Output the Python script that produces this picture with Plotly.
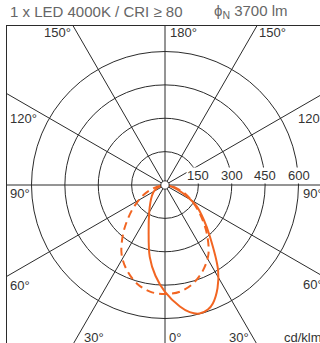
import numpy as np
import plotly.graph_objects as go

# ---- data (cd/klm) ----
# solid curve (C90/C270 plane), gamma in degrees from nadir, negative = left
gamma_solid = [-90, -80, -70, -60, -50, -40, -30, -20, -12, -6, 0, 7, 11, 15, 19, 22, 27, 32, 41, 48, 56, 62, 70, 80, 90]
intensity_solid = [0, 12, 35, 58, 77, 102, 142, 215, 330, 410, 480, 550, 582, 598, 592, 574, 520, 450, 308, 235, 172, 115, 60, 20, 0]

# dashed curve (C0/C180 plane)
gamma_dash = [-90, -82, -74, -65, -54, -46, -40, -32, -24, -16, -8, 0, 8, 16, 24, 32, 40, 46, 54, 65, 74, 82, 90]
intensity_dash = [0, 20, 55, 107, 177, 240, 295, 368, 420, 460, 484, 490, 484, 460, 420, 368, 295, 240, 177, 107, 55, 20, 0]

ring_values = [150, 300, 450, 600]
ring_labels = ["150", "300", "450", "600"]
grid_angles = [0, 30, 60, 90, 120, 150]

title_left = "1 x LED 4000K / CRI \u2265 80"
title_right = "\u03d5<sub>N</sub> 3700 lm"
unit_label = "cd/klm"

# ---- geometry (pixel layout) ----
W, H = 320, 343
L_M, T_M = 7, 26
CX, CY = 165, 185          # pole position in pixels
S = 133.5 / 600.0          # pixels per cd/klm


def dx(px):
    return (px - CX) / S


def dy(py):
    return (CY - py) / S


ORANGE = "#f26522"
GRID = "#2b2b2b"
FONT = "Liberation Sans, Arial, Helvetica, sans-serif"


def to_xy(g, r):
    g = np.radians(np.asarray(g, dtype=float))
    r = np.asarray(r, dtype=float)
    return r * np.sin(g), -r * np.cos(g)


fig = go.Figure()

xs, ys = to_xy(gamma_dash, intensity_dash)
fig.add_trace(go.Scatter(x=xs, y=ys, mode="lines", line=dict(color=ORANGE, width=2, dash="8px,5px", shape="spline"),
                         hoverinfo="skip", showlegend=False))
xs, ys = to_xy(gamma_solid, intensity_solid)
fig.add_trace(go.Scatter(x=xs, y=ys, mode="lines", line=dict(color=ORANGE, width=2, shape="spline"),
                         hoverinfo="skip", showlegend=False))

shapes = []
for rv in ring_values:
    shapes.append(dict(type="circle", xref="x", yref="y", x0=-rv, x1=rv, y0=-rv, y1=rv,
                       line=dict(color=GRID, width=1), layer="below"))
LEN = 2000
for a in grid_angles:
    t = np.radians(a)
    shapes.append(dict(type="line", xref="x", yref="y",
                       x0=-LEN * np.sin(t), y0=LEN * np.cos(t), x1=LEN * np.sin(t), y1=-LEN * np.cos(t),
                       line=dict(color=GRID, width=1), layer="below"))
rc = 4.2 / S
shapes.append(dict(type="circle", xref="x", yref="y", x0=-rc, x1=rc, y0=-rc, y1=rc,
                   line=dict(color=GRID, width=1), fillcolor="white", layer="above"))

ann = []
lab_font = dict(family=FONT, size=13, color="#333333")
for rv, lab in zip(ring_values, ring_labels):
    ann.append(dict(x=rv, y=dy(184), xref="x", yref="y", text=lab, showarrow=False,
                    xanchor="center", yanchor="bottom", bgcolor="white", borderpad=0, font=lab_font))

angle_ann = [
    ("150°", 73, 32.5, "right"),
    ("180°", 168, 32.5, "left"),
    ("150°", 257, 32.5, "left"),
    ("120°", 8, 118, "left"),
    ("120°", 296, 118, "left"),
    ("90°", 8, 193, "left"),
    ("90°", 301, 193, "left"),
    ("60°", 8, 285, "left"),
    ("60°", 301, 284, "left"),
    ("30°", 82, 337, "left"),
    ("0°", 167, 337, "left"),
    ("30°", 227, 337, "left"),
    (unit_label, 282, 337, "left"),
]
for txt, px, py, xa in angle_ann:
    ann.append(dict(x=dx(px), y=dy(py), xref="x", yref="y", text=txt, showarrow=False,
                    xanchor=xa, yanchor="middle", font=lab_font))

title_font = dict(family=FONT, size=15, color="#666666")
ann.append(dict(x=(8 - L_M) / (W - L_M), y=(H - 11.5) / (H - T_M), xref="paper", yref="paper",
                text=title_left, showarrow=False, xanchor="left", yanchor="middle", font=title_font))
ann.append(dict(x=(212 - L_M) / (W - L_M), y=(H - 11.5) / (H - T_M), xref="paper", yref="paper",
                text=title_right, showarrow=False, xanchor="left", yanchor="middle", font=title_font))

fig.update_layout(
    width=W, height=H, autosize=False,
    margin=dict(l=L_M, r=0, t=T_M, b=0, pad=0),
    paper_bgcolor="white", plot_bgcolor="white",
    shapes=shapes, annotations=ann, showlegend=False,
    xaxis=dict(range=[dx(L_M), dx(W)], showgrid=False, zeroline=False, showticklabels=False, ticks="",
               showline=True, mirror=True, linecolor=GRID, linewidth=1, fixedrange=True),
    yaxis=dict(range=[dy(H), dy(T_M)], showgrid=False, zeroline=False, showticklabels=False, ticks="",
               showline=True, mirror=True, linecolor=GRID, linewidth=1, fixedrange=True),
)

fig.write_html("out.html", config={"displayModeBar": False},
               post_script="document.body.style.margin='0';document.body.style.overflow='hidden';")
